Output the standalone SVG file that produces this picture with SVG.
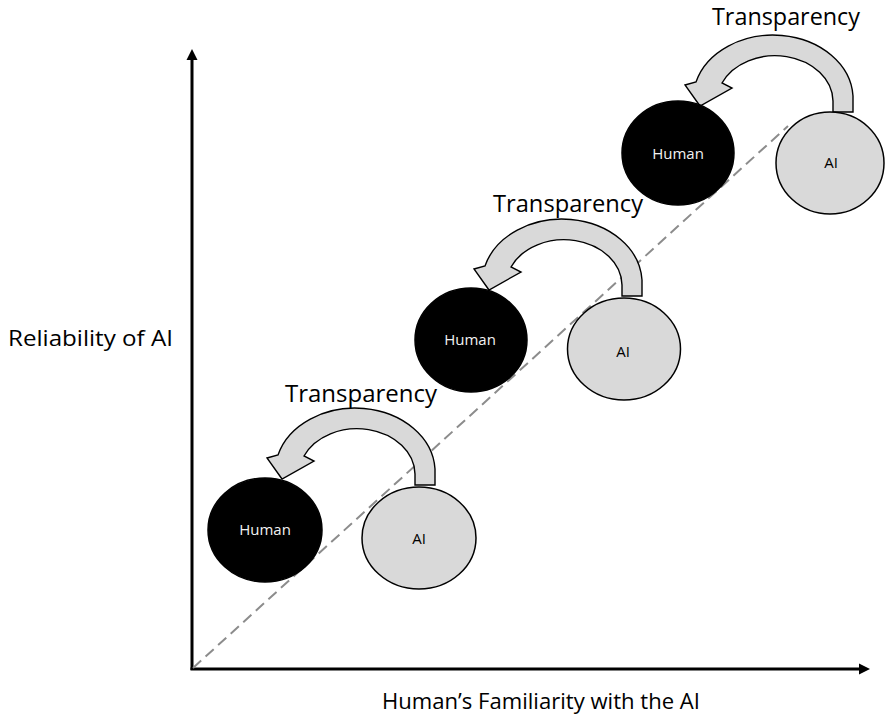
<svg xmlns="http://www.w3.org/2000/svg" width="885" height="717" viewBox="0 0 885 717">
  <style>
    .axis { stroke: #000; stroke-width: 3; fill: none; }
    .diag { stroke: #8c8c8c; stroke-width: 2; stroke-dasharray: 11 6; fill: none; }
    .human { fill: #000; stroke: #000; stroke-width: 1.5; }
    .ai { fill: #d9d9d9; stroke: #000; stroke-width: 1.5; }
    .flow { fill: #d9d9d9; stroke: #000; stroke-width: 1.4; stroke-linejoin: miter; }
    .lbl { font-family: "Open Sans", "Noto Sans", "Liberation Sans", sans-serif; }
    .big { font-size: 22px; fill: #000; }
    .tr { font-size: 23px; fill: #000; }
    .nh { font-size: 15px; fill: #f2f2f2; }
    .na { font-size: 15px; fill: #000; }
  </style>
  <defs>
    <!-- curved "Transparency" arrow, from the AI node back to the Human node -->
    <path id="curl" d="M 853,112 L 853,96 A 80,64 0 0 0 696,82 L 685,85 L 700,106 L 732,88 L 722,83 A 58,46 0 0 1 833,101 L 833,112 Z"/>
  </defs>

  <rect width="885" height="717" fill="#fff"/>

  <!-- axes -->
  <g id="axes">
    <line class="axis" x1="192" y1="670" x2="192" y2="58"/>
    <polygon points="192,49 186.5,60 197.5,60" fill="#000"/>
    <line class="axis" x1="190.5" y1="669" x2="861" y2="669"/>
    <polygon points="870,669 859,663.5 859,674.5" fill="#000"/>
    <line class="diag" x1="193" y1="668" x2="788" y2="126"/>
  </g>

  <!-- transparency arrows -->
  <g id="connectors">
    <use href="#curl" class="flow"/>
    <use href="#curl" class="flow" transform="translate(-211,184)"/>
    <use href="#curl" class="flow" transform="translate(-418,373)"/>
  </g>

  <!-- upper pair -->
  <g id="human-3">
    <ellipse class="human" cx="678" cy="153" rx="56" ry="52"/>
    <text class="lbl nh" x="678" y="159" text-anchor="middle">Human</text>
  </g>
  <g id="ai-3">
    <ellipse class="ai" cx="830" cy="163" rx="54" ry="51"/>
    <text class="lbl na" x="831" y="168" text-anchor="middle">AI</text>
  </g>

  <!-- middle pair -->
  <g id="human-2">
    <ellipse class="human" cx="471" cy="340" rx="56" ry="52"/>
    <text class="lbl nh" x="470" y="345" text-anchor="middle">Human</text>
  </g>
  <g id="ai-2">
    <ellipse class="ai" cx="624" cy="349" rx="56.5" ry="51"/>
    <text class="lbl na" x="623" y="357" text-anchor="middle">AI</text>
  </g>

  <!-- lower pair -->
  <g id="human-1">
    <ellipse class="human" cx="265" cy="530" rx="57" ry="52"/>
    <text class="lbl nh" x="265" y="535" text-anchor="middle">Human</text>
  </g>
  <g id="ai-1">
    <ellipse class="ai" cx="419" cy="538" rx="57" ry="51"/>
    <text class="lbl na" x="419" y="544" text-anchor="middle">AI</text>
  </g>

  <!-- arrow labels -->
  <text class="lbl tr" x="786" y="25" text-anchor="middle" textLength="148" lengthAdjust="spacingAndGlyphs">Transparency</text>
  <text class="lbl tr" x="568" y="212" text-anchor="middle" textLength="150" lengthAdjust="spacingAndGlyphs">Transparency</text>
  <text class="lbl tr" x="361" y="402" text-anchor="middle" textLength="152" lengthAdjust="spacingAndGlyphs">Transparency</text>

  <!-- axis titles -->
  <text class="lbl big" x="8" y="346" textLength="165" lengthAdjust="spacingAndGlyphs">Reliability of AI</text>
  <text class="lbl big" x="382" y="709" textLength="318" lengthAdjust="spacingAndGlyphs">Human’s Familiarity with the AI</text>
</svg>
